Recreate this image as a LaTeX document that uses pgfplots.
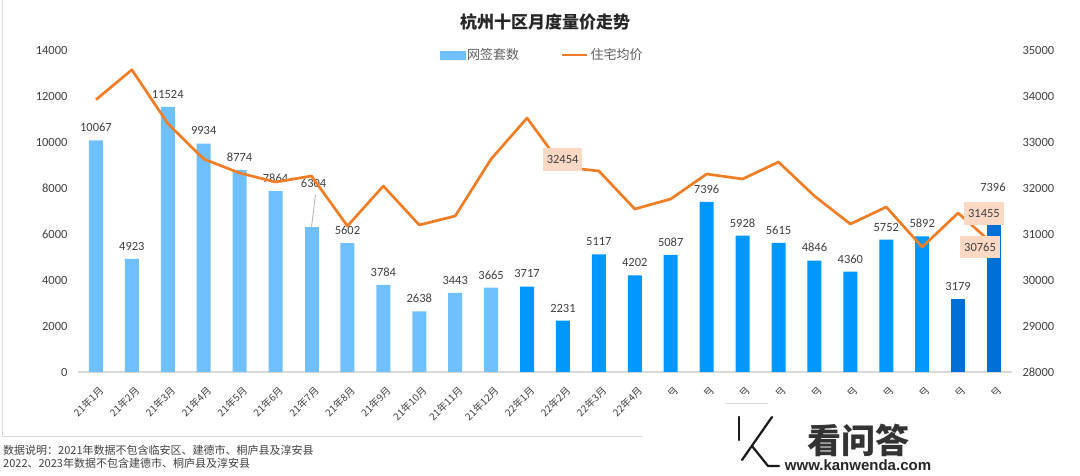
\documentclass[border=0pt]{standalone}
\usepackage{pgfplots}
\pgfplotsset{compat=1.18}
\usepackage{pgfplotstable}
\usepackage{fontspec}
\setmainfont{Carlito}
\newfontfamily\cjk{Noto Sans CJK SC}
\newfontfamily\wm{Liberation Sans}
\definecolor{lb}{HTML}{70BFFF}
\definecolor{mb}{HTML}{0098FF}
\definecolor{db}{HTML}{0070D6}
\definecolor{org}{HTML}{F07E26}
\definecolor{peach}{HTML}{FCD9C4}
\definecolor{txt}{HTML}{404040}
\definecolor{gl}{HTML}{D9D9D9}
\pgfplotsset{/pgf/number format/assume math mode=true,/pgf/number format/1000 sep={}}

% 2021 bars with standard labels
\pgfplotstableread{
x y
0 10067
1 4923
2 11524
3 9934
4 8774
5 7864
7 5602
8 3784
9 2638
10 3443
11 3665
}\barsA
% 2021 bar whose label is moved
\pgfplotstableread{
x y
6 6304
}\barsAb
% 2022 bars
\pgfplotstableread{
x y
12 3717
13 2231
14 5117
15 4202
16 5087
17 7396
18 5928
19 5615
20 4846
21 4360
22 5752
23 5892
}\barsB
% 2023 bars
\pgfplotstableread{
x y
24 3179
}\barsC
\pgfplotstableread{
x y
25 6391
}\barsCb
% average price
\pgfplotstableread{
x p
0 33920
1 34570
2 33400
3 32630
4 32326
5 32130
6 32261
7 31174
8 32043
9 31196
10 31391
11 32630
12 33522
13 32454
14 32370
15 31543
16 31761
17 32304
18 32196
19 32565
20 31826
21 31217
22 31587
23 30717
24 31455
25 30765
}\price

\begin{document}
\begin{tikzpicture}[x=1pt,y=1pt]
\useasboundingbox (0,0) rectangle (1080,476);
% frame
\draw[gl, line width=1pt] (2,476) -- (2,39) -- (648,39);
% title
\node[font=\cjk\bfseries\fontsize{17}{20}\selectfont, text=black!85] at (545,454) {杭州十区月度量价走势};

\begin{axis}[
  at={(78pt,104pt)}, anchor=south west, scale only axis,
  width=934pt, height=322pt,
  xmin=-0.5, xmax=25.5, ymin=0, ymax=14000,
  ybar, bar width=14pt,
  separate axis lines,
  axis x line*=bottom, axis y line*=left,
  y axis line style={draw=none},
  x axis line style={gl, line width=1.3pt},
  major tick length=0pt, tick style={draw=none},
  ytick={0,2000,...,14000}, scaled y ticks=false,
  yticklabel style={font=\fontsize{12.5}{14}\selectfont, text=txt, xshift=-7pt},
  xtick={0,...,25},
  xticklabels={21年1月,21年2月,21年3月,21年4月,21年5月,21年6月,21年7月,21年8月,21年9月,21年10月,21年11月,21年12月,22年1月,22年2月,22年3月,22年4月,22年5月,22年6月,22年7月,22年8月,22年9月,22年10月,22年11月,22年12月,23年1月,23年2月},
  xticklabel style={font=\cjk\fontsize{10}{12}\selectfont, text=txt, xshift=8pt, yshift=-14pt, rotate=45, anchor=east},
  nodes near coords,
  nodes near coords style={font=\fontsize{12.5}{14}\selectfont, text=txt, anchor=south, yshift=5pt},
  point meta=y,
  legend style={at={(0.497,0.984)}, anchor=center, draw=none, fill=none,
    legend columns=2, font=\cjk\fontsize{13}{15}\selectfont, text=txt!85,
    /tikz/every even column/.append style={column sep=40pt},
    inner sep=0pt, cells={anchor=west}},
  clip=false,
]
\addplot[fill=lb, draw=none, bar shift=0pt, forget plot] table[x=x,y=y] {\barsA};
\addplot[fill=lb, draw=none, bar shift=0pt, forget plot, nodes near coords=] table[x=x,y=y] {\barsAb};
\addplot[fill=mb, draw=none, bar shift=0pt, forget plot] table[x=x,y=y] {\barsB};
\addplot[fill=db, draw=none, bar shift=0pt, forget plot] table[x=x,y=y] {\barsC};
\addplot[fill=db, draw=none, bar shift=0pt, forget plot, nodes near coords=] table[x=x,y=y] {\barsCb};
\addlegendimage{legend image code/.code={\fill[lb] (0pt,-4pt) rectangle (25pt,4pt);}}
\addlegendentry{网签套数}
\addlegendimage{legend image code/.code={\draw[org, line width=2.5pt] (0pt,0pt) -- (25pt,0pt);}}
\addlegendentry{住宅均价}
% moved labels
\draw[gray!60, line width=0.8pt] (axis cs:6.11,7696) -- (axis cs:6.0,6304);
\node[font=\fontsize{12.5}{14}\selectfont, text=txt] at (axis cs:6.06,8217) {6304};
\node[font=\fontsize{12.5}{14}\selectfont, text=txt] at (axis cs:24.97,8043) {7396};
\end{axis}

\begin{axis}[
  at={(78pt,104pt)}, anchor=south west, scale only axis,
  width=934pt, height=322pt,
  xmin=-0.5, xmax=25.5, ymin=28000, ymax=35000,
  axis x line=none, axis y line*=right,
  y axis line style={draw=none},
  major tick length=0pt, tick style={draw=none},
  ytick={28000,29000,...,35000}, scaled y ticks=false,
  yticklabel style={font=\fontsize{12.5}{14}\selectfont, text=txt, xshift=7pt},
  clip=false,
]
\addplot[org, line width=2.7pt, line join=round, mark=none] table[x=x,y=p] {\price};
\node[fill=peach, font=\fontsize{12.5}{14}\selectfont, text=txt, inner xsep=4pt, minimum height=23pt] at (axis cs:12.99,32630) {32454};
\node[fill=peach, font=\fontsize{12.5}{14}\selectfont, text=txt, inner xsep=4pt, minimum height=23pt] at (axis cs:24.72,31446) {31455};
\node[fill=peach, font=\fontsize{12.5}{14}\selectfont, text=txt, inner xsep=4pt, minimum height=22pt] at (axis cs:24.61,30707) {30765};
\end{axis}

% footnote
\node[anchor=north west, align=left, font=\cjk\fontsize{11}{12.5}\selectfont, text=txt, inner sep=0pt] at (3,31)
  {数据说明：2021年数据不包含临安区、建德市、桐庐县及淳安县\\2022、2023年数据不包含建德市、桐庐县及淳安县};

% watermark cover
\fill[white] (648,0) rectangle (1080,82);
\fill[white] (643,0) rectangle (650,76);
\draw[gl, line width=0.8pt] (726,73) -- (768,73);
\begin{scope}[line width=2.2pt, draw=black!90, double=white, double distance=5pt, line cap=round, line join=round]
\draw (739,59) -- (739,36);
\draw (772,59) -- (742,16);
\draw (752,30) -- (768,10) -- (779,10);
\end{scope}
\node[font=\cjk\bfseries\fontsize{34}{36}\selectfont, text=black!80] at (858,36) {看问答};
\node[font=\wm\bfseries\fontsize{15}{16}\selectfont, text=black!85] at (858,11) {www.kanwenda.com};
\end{tikzpicture}
\end{document}
